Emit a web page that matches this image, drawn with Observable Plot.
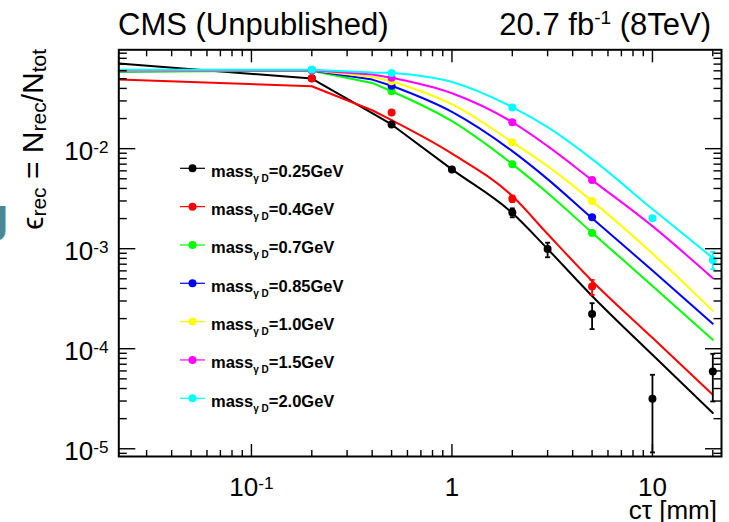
<!DOCTYPE html>
<html><head><meta charset="utf-8">
<script src="https://cdn.jsdelivr.net/npm/d3@7"></script>
<script src="https://cdn.jsdelivr.net/npm/@observablehq/plot@0.6"></script>
<style>
html,body{margin:0;padding:0;background:#fff;}
#chart{width:729px;height:522px;overflow:hidden;}
</style></head><body><div id="chart"></div>
<script>
// ---- data ----
const seriesNames = ["0.25", "0.4", "0.7", "0.85", "1.0", "1.5", "2.0"];
const seriesColors = ["#000000", "#ff0000", "#00ff00", "#0000ff", "#ffff00", "#ff00ff", "#00ffff"];

// curves (cτ in mm, efficiency)
const lineCtau = [0.0218, 0.2, 0.4, 0.5, 1, 2, 3, 5, 10, 20];
const lineEff_025 = [0.0709, 0.0502, 0.0226, 0.01744, 0.00620, 0.00227, 0.000993, 0.000337, 0.0000869, 0.0000228];
const lineEff_04  = [0.0490, 0.0420, 0.0242, 0.01925, 0.00892, 0.00336, 0.001402, 0.000476, 0.0001285, 0.0000347];
const lineEff_07  = [0.0587, 0.0600, 0.0454, 0.0375, 0.01882, 0.00700, 0.00360, 0.001444, 0.000424, 0.0001227];
const lineEff_085 = [0.0594, 0.0603, 0.0490, 0.0425, 0.0233, 0.00944, 0.00496, 0.00201, 0.000606, 0.000178];
const lineEff_10  = [0.0600, 0.0607, 0.0521, 0.0472, 0.0278, 0.01161, 0.00669, 0.00299, 0.000896, 0.000239];
const lineEff_15  = [0.0607, 0.0607, 0.0550, 0.0511, 0.0358, 0.0184, 0.01059, 0.00485, 0.00168, 0.000507];
const lineEff_20  = [0.0614, 0.0614, 0.0576, 0.0573, 0.0464, 0.0260, 0.01639, 0.00786, 0.00249, 0.000808];

// measured points
const ptCtau_025 = [0.2, 0.5, 1, 2, 3, 5, 10, 20];
const ptEff_025  = [0.0505, 0.01744, 0.00620, 0.002297, 0.000995, 0.000222, 0.0000316, 0.0000592];
const ptCtau_04  = [0.2, 0.5, 2, 5];
const ptEff_04   = [0.0502, 0.0230, 0.00315, 0.000418];
const ptCtau_07  = [0.2, 0.5, 2, 5];
const ptEff_07   = [0.0607, 0.0375, 0.0070, 0.001434];
const ptCtau_085 = [0.2, 0.5, 5];
const ptEff_085  = [0.0607, 0.0425, 0.002063];
const ptCtau_10  = [0.2, 0.5, 2, 5];
const ptEff_10   = [0.0607, 0.0472, 0.01161, 0.00299];
const ptCtau_15  = [0.2, 0.5, 2, 5];
const ptEff_15   = [0.0607, 0.0511, 0.0184, 0.00485];
const ptCtau_20  = [0.2, 0.5, 2, 10, 20];
const ptEff_20   = [0.0617, 0.0571, 0.0258, 0.00201, 0.000771];

// error bars
const errMass = ["0.25", "0.25", "0.25", "0.25", "0.25", "0.4", "0.4", "2.0"];
const errCtau = [2, 3, 5, 10, 20, 2, 5, 20];
const errLow  = [0.002058, 0.000821, 0.000157, 0.0000092, 0.0000297, 0.00292, 0.000345, 0.000623];
const errHigh = [0.00253, 0.001148, 0.000285, 0.0000549, 0.0000889, 0.00340, 0.000487, 0.000933];

// ticks
const xMajorTicks = [0.1, 1, 10];
const xTickLabels = ["10^-1", "1", "10"];
const xMinorTicks = [0.03, 0.04, 0.05, 0.06, 0.07, 0.08, 0.09, 0.2, 0.3, 0.4, 0.5, 0.6, 0.7, 0.8, 0.9, 2, 3, 4, 5, 6, 7, 8, 9, 20];
const yMajorTicks = [0.00001, 0.0001, 0.001, 0.01];
const yTickLabels = ["10^-5", "10^-4", "10^-3", "10^-2"];
const yMinorTicks = [0.000009,
  0.00002, 0.00003, 0.00004, 0.00005, 0.00006, 0.00007, 0.00008, 0.00009,
  0.0002, 0.0003, 0.0004, 0.0005, 0.0006, 0.0007, 0.0008, 0.0009,
  0.002, 0.003, 0.004, 0.005, 0.006, 0.007, 0.008, 0.009,
  0.02, 0.03, 0.04, 0.05, 0.06, 0.07, 0.08, 0.09];

// ---- tables for the library ----
const lineEff = [lineEff_025, lineEff_04, lineEff_07, lineEff_085, lineEff_10, lineEff_15, lineEff_20];
const ptCtau = [ptCtau_025, ptCtau_04, ptCtau_07, ptCtau_085, ptCtau_10, ptCtau_15, ptCtau_20];
const ptEff = [ptEff_025, ptEff_04, ptEff_07, ptEff_085, ptEff_10, ptEff_15, ptEff_20];
const lineRows = seriesNames.flatMap((m, s) => lineCtau.map((c, i) => ({mass: m, ctau: c, eff: lineEff[s][i]})));
const lineRowsLow = lineRows.filter(d => d.ctau <= 0.5);
const lineRowsHigh = lineRows.filter(d => d.ctau >= 0.5);
const pointRows = seriesNames.flatMap((m, s) => ptCtau[s].map((c, i) => ({mass: m, ctau: c, eff: ptEff[s][i]})));
const errRows = errMass.map((m, i) => ({mass: m, ctau: errCtau[i], lo: errLow[i], hi: errHigh[i]}));

const capSymbol = {draw(ctx, size) { const w = Math.sqrt(size / Math.PI); ctx.moveTo(-w, 0); ctx.lineTo(w, 0); }};
const FONT = "'Liberation Sans', Arial, Helvetica, sans-serif";
const blank = () => "";

const chart = Plot.plot({
  width: 729, height: 522,
  marginTop: 49.3, marginRight: 8, marginBottom: 66, marginLeft: 118.3,
  style: {fontFamily: FONT, background: "#fff", color: "#000"},
  x: {type: "log", domain: [0.0218, 22.1]},
  y: {type: "log", domain: [8.37e-6, 0.0973]},
  color: {domain: seriesNames, range: seriesColors},
  marks: [
    Plot.line(lineRowsLow, {x: "ctau", y: "eff", z: "mass", stroke: "mass", strokeWidth: 2}),
    Plot.line(lineRowsHigh, {x: "ctau", y: "eff", z: "mass", stroke: "mass", strokeWidth: 2, curve: "monotone-x"}),
    Plot.ruleX(errRows, {x: "ctau", y1: "lo", y2: "hi", stroke: "mass", strokeWidth: 1.8}),
    Plot.dot(errRows, {x: "ctau", y: "lo", symbol: capSymbol, r: 2.5, stroke: "mass", strokeWidth: 1.8}),
    Plot.dot(errRows, {x: "ctau", y: "hi", symbol: capSymbol, r: 2.5, stroke: "mass", strokeWidth: 1.8}),
    Plot.dot(pointRows, {x: "ctau", y: "eff", fill: "mass", r: 4}),
    // tick marks (inward, on all four sides)
    Plot.axisX(xMajorTicks, {anchor: "bottom", tickSize: -12, tickFormat: blank, strokeWidth: 1.4, label: null}),
    Plot.axisX(xMinorTicks, {anchor: "bottom", tickSize: -6, tickFormat: blank, strokeWidth: 1.4, label: null}),
    Plot.axisX(xMajorTicks, {anchor: "top", tickSize: -12, tickFormat: blank, strokeWidth: 1.4, label: null}),
    Plot.axisX(xMinorTicks, {anchor: "top", tickSize: -6, tickFormat: blank, strokeWidth: 1.4, label: null}),
    Plot.axisY(yMajorTicks, {anchor: "left", tickSize: -17, tickFormat: blank, strokeWidth: 1.4, label: null}),
    Plot.axisY(yMinorTicks, {anchor: "left", tickSize: -8.5, tickFormat: blank, strokeWidth: 1.4, label: null}),
    Plot.axisY(yMajorTicks, {anchor: "right", tickSize: -17, tickFormat: blank, strokeWidth: 1.4, label: null}),
    Plot.axisY(yMinorTicks, {anchor: "right", tickSize: -8.5, tickFormat: blank, strokeWidth: 1.4, label: null}),
    // tick labels
    Plot.axisX(xMajorTicks, {anchor: "bottom", tickSize: 0, tickPadding: 21.5, fontSize: 26, tickFormat: d => xTickLabels[xMajorTicks.indexOf(d)], label: null}),
    Plot.axisY(yMajorTicks, {anchor: "left", tickSize: 0, tickPadding: 10.3, dy: 3, fontSize: 26, tickFormat: d => yTickLabels[yMajorTicks.indexOf(d)], label: null}),
    Plot.frame({stroke: "#000", strokeWidth: 2})
  ]
});

const svg = d3.select(chart);
svg.attr("font-family", FONT);
// superscripts in tick labels
svg.selectAll('g[aria-label="x-axis tick label"] text, g[aria-label="y-axis tick label"] text').each(function() {
  const t = d3.select(this);
  const s = t.text();
  if (!s.includes("^")) return;
  const [b, e] = s.split("^");
  t.text(null);
  t.append("tspan").text(b);
  t.append("tspan").attr("dy", "-0.42em").attr("font-size", "0.66em").text(e);
});

// titles
svg.append("text").attr("x", 118).attr("y", 35).attr("font-size", 31).attr("text-anchor", "start").attr("fill", "#000").text("CMS (Unpublished)");
const t2 = svg.append("text").attr("x", 711).attr("y", 35).attr("font-size", 31).attr("text-anchor", "end").attr("fill", "#000");
t2.append("tspan").text("20.7 fb");
t2.append("tspan").attr("font-size", 19).attr("dy", -11).text("-1");
t2.append("tspan").attr("dy", 11).text(" (8TeV)");

// y axis title
const yl = svg.append("text").attr("transform", "translate(43,49) rotate(-90)").attr("text-anchor", "end").attr("font-size", 30).attr("fill", "#000");
yl.append("tspan").text("ϵ");
yl.append("tspan").attr("font-size", 21).attr("dy", 3).text("rec");
yl.append("tspan").attr("dy", -3).text(" = N");
yl.append("tspan").attr("font-size", 21).attr("dy", 3).text("rec");
yl.append("tspan").attr("dy", -3).text("/N");
yl.append("tspan").attr("font-size", 21).attr("dy", 3).text("tot");

// x axis title
svg.append("text").attr("x", 717).attr("y", 519).attr("text-anchor", "end").attr("font-size", 26).attr("fill", "#000").text("cτ [mm]");

// clipped glyph at the left edge of the source slide
svg.append("text").attr("x", 8.5).attr("y", 230.5).attr("text-anchor", "end").attr("font-size", 46).attr("font-weight", "bold").attr("fill", "#4d8792").text("g");

// legend
const leg = svg.append("g");
seriesNames.forEach((m, i) => {
  const y = 168.3 + i * 38.33;
  leg.append("line").attr("x1", 180).attr("x2", 205).attr("y1", y).attr("y2", y).attr("stroke", seriesColors[i]).attr("stroke-width", 1.2);
  leg.append("circle").attr("cx", 192.5).attr("cy", y).attr("r", 4).attr("fill", seriesColors[i]);
  const t = leg.append("text").attr("x", 211).attr("y", y + 8.5).attr("text-anchor", "start").attr("font-weight", "bold").attr("font-size", 16.5).attr("fill", "#000");
  t.append("tspan").text("mass");
  t.append("tspan").attr("font-size", 10).attr("dy", 5).text("γ D");
  t.append("tspan").attr("dy", -5).text("=" + m + "GeV");
});

document.getElementById("chart").appendChild(chart);
</script>
</body></html>
